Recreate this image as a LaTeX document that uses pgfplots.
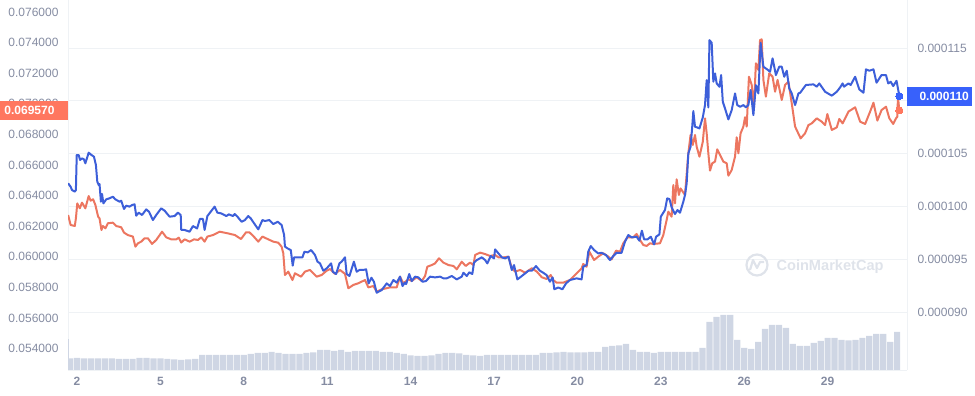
\documentclass[border=0pt]{standalone}
\usepackage{pgfplots}
\pgfplotsset{compat=1.18}
\usepackage{pgfplotstable}
\usepackage{fontspec}
\setmainfont{Liberation Sans}
\definecolor{gridc}{HTML}{EFF2F5}
\definecolor{tickc}{HTML}{858CA2}
\definecolor{bluel}{HTML}{3D5FD9}
\definecolor{redl}{HTML}{EC7660}
\definecolor{blueb}{HTML}{3861FB}
\definecolor{redb}{HTML}{FF775F}
\definecolor{volc}{HTML}{CFD6E4}
\definecolor{wm}{HTML}{DFE3EA}
\pgfplotstableread{
d v
1.68 0.00010219
1.77 0.00010187
1.82 0.00010155
1.92 0.00010140
1.96 0.00010155
1.99 0.00010487
2.06 0.00010487
2.11 0.00010440
2.18 0.00010455
2.25 0.00010446
2.30 0.00010408
2.42 0.00010509
2.52 0.00010487
2.61 0.00010471
2.68 0.00010392
2.73 0.00010234
2.78 0.00010203
2.81 0.00010212
2.86 0.00010045
2.90 0.00010118
2.95 0.00010029
3.05 0.00010067
3.17 0.00010077
3.29 0.00010092
3.38 0.00010067
3.53 0.00010045
3.59 0.00010054
3.69 0.00009976
3.77 0.00010007
3.89 0.00009998
3.98 0.00010013
4.07 0.00010020
4.13 0.00009912
4.22 0.00009941
4.34 0.00009919
4.49 0.00009972
4.59 0.00009950
4.73 0.00009871
4.85 0.00009919
5.03 0.00009982
5.15 0.00009960
5.33 0.00009903
5.51 0.00009909
5.63 0.00009941
5.73 0.00009919
5.75 0.00009777
5.87 0.00009777
6.05 0.00009761
6.17 0.00009814
6.32 0.00009792
6.42 0.00009881
6.53 0.00009881
6.59 0.00009777
6.69 0.00009909
6.83 0.00009957
6.95 0.00009998
7.05 0.00009941
7.19 0.00009934
7.37 0.00009909
7.46 0.00009925
7.61 0.00009909
7.67 0.00009928
7.77 0.00009903
7.92 0.00009855
8.04 0.00009871
8.16 0.00009909
8.25 0.00009887
8.37 0.00009840
8.52 0.00009783
8.67 0.00009871
8.76 0.00009862
8.92 0.00009871
9.06 0.00009833
9.22 0.00009855
9.36 0.00009824
9.45 0.00009729
9.48 0.00009619
9.57 0.00009603
9.69 0.00009587
9.76 0.00009439
9.81 0.00009518
9.96 0.00009518
10.11 0.00009518
10.18 0.00009571
10.30 0.00009565
10.42 0.00009587
10.56 0.00009540
10.65 0.00009477
10.74 0.00009461
10.86 0.00009391
10.98 0.00009413
11.14 0.00009461
11.20 0.00009382
11.32 0.00009360
11.44 0.00009461
11.52 0.00009477
11.64 0.00009518
11.70 0.00009360
11.80 0.00009341
11.96 0.00009477
12.06 0.00009382
12.16 0.00009398
12.28 0.00009398
12.40 0.00009404
12.49 0.00009271
12.59 0.00009325
12.68 0.00009287
12.78 0.00009183
12.96 0.00009208
13.14 0.00009271
13.26 0.00009246
13.38 0.00009303
13.50 0.00009278
13.62 0.00009335
13.71 0.00009246
13.79 0.00009278
13.84 0.00009265
13.95 0.00009360
14.04 0.00009293
14.16 0.00009335
14.28 0.00009328
14.43 0.00009287
14.55 0.00009293
14.70 0.00009335
14.88 0.00009328
15.06 0.00009335
15.18 0.00009319
15.30 0.00009319
15.48 0.00009341
15.66 0.00009309
15.84 0.00009335
15.90 0.00009372
16.02 0.00009341
16.11 0.00009376
16.22 0.00009360
16.28 0.00009467
16.38 0.00009492
16.56 0.00009518
16.68 0.00009492
16.76 0.00009461
16.88 0.00009530
17.00 0.00009508
17.04 0.00009593
17.16 0.00009555
17.28 0.00009518
17.40 0.00009508
17.52 0.00009524
17.64 0.00009398
17.72 0.00009445
17.84 0.00009309
18.00 0.00009341
18.24 0.00009391
18.36 0.00009391
18.51 0.00009435
18.65 0.00009391
18.77 0.00009372
18.89 0.00009350
19.01 0.00009287
19.11 0.00009328
19.17 0.00009215
19.31 0.00009233
19.46 0.00009215
19.59 0.00009271
19.73 0.00009303
19.97 0.00009319
20.15 0.00009309
20.21 0.00009429
20.33 0.00009445
20.39 0.00009571
20.48 0.00009625
20.60 0.00009587
20.75 0.00009555
20.87 0.00009561
21.03 0.00009539
21.17 0.00009492
21.29 0.00009530
21.41 0.00009561
21.59 0.00009561
21.71 0.00009666
21.83 0.00009729
21.95 0.00009707
22.13 0.00009713
22.23 0.00009675
22.32 0.00009770
22.40 0.00009688
22.52 0.00009688
22.64 0.00009713
22.76 0.00009640
22.83 0.00009713
22.95 0.00009735
23.00 0.00009903
23.15 0.00009966
23.23 0.00010076
23.31 0.00010070
23.39 0.00009991
23.51 0.00009928
23.60 0.00009966
23.69 0.00009940
23.81 0.00010045
23.87 0.00010108
23.93 0.00010218
23.99 0.00010502
24.07 0.00010565
24.13 0.00010754
24.17 0.00010903
24.23 0.00010754
24.31 0.00010748
24.39 0.00010739
24.51 0.00010843
24.59 0.00010960
24.65 0.00011196
24.71 0.00010938
24.75 0.00011575
24.83 0.00011550
24.89 0.00011181
24.95 0.00011260
25.01 0.00011165
25.11 0.00011133
25.17 0.00011244
25.23 0.00010991
25.31 0.00010928
25.43 0.00010824
25.55 0.00010912
25.67 0.00011070
25.75 0.00010960
25.85 0.00010944
25.97 0.00010960
26.06 0.00010938
26.15 0.00010960
26.23 0.00011102
26.33 0.00010865
26.42 0.00011149
26.51 0.00011070
26.59 0.00011550
26.69 0.00011323
26.83 0.00011297
26.93 0.00011275
27.02 0.00011402
27.14 0.00011244
27.26 0.00011323
27.35 0.00011323
27.44 0.00011228
27.53 0.00011285
27.62 0.00011118
27.71 0.00011070
27.83 0.00010960
27.95 0.00011070
28.01 0.00011076
28.22 0.00011150
28.49 0.00011156
28.61 0.00011134
28.70 0.00011165
28.91 0.00011086
29.15 0.00011049
29.33 0.00011086
29.45 0.00011127
29.54 0.00011165
29.59 0.00011134
29.75 0.00011165
29.83 0.00011150
29.99 0.00011228
30.14 0.00011108
30.29 0.00011077
30.38 0.00011298
30.50 0.00011285
30.65 0.00011298
30.76 0.00011172
30.94 0.00011244
31.10 0.00011244
31.18 0.00011165
31.27 0.00011181
31.36 0.00011140
31.48 0.00011190
31.58 0.00011045
}\bluedata
\pgfplotstableread{
d v
1.68 0.06273
1.77 0.06208
1.92 0.06201
1.96 0.06251
2.01 0.06349
2.10 0.06317
2.18 0.06354
2.30 0.06317
2.42 0.06397
2.49 0.06367
2.58 0.06376
2.66 0.06339
2.76 0.06262
2.81 0.06251
2.88 0.06175
2.93 0.06201
3.02 0.06186
3.11 0.06219
3.29 0.06223
3.41 0.06201
3.59 0.06193
3.69 0.06158
3.83 0.06142
4.01 0.06132
4.10 0.06066
4.19 0.06088
4.31 0.06099
4.43 0.06121
4.55 0.06121
4.70 0.06084
4.85 0.06110
5.06 0.06164
5.21 0.06127
5.39 0.06114
5.57 0.06114
5.66 0.06125
5.75 0.06093
5.87 0.06114
6.05 0.06099
6.21 0.06114
6.35 0.06110
6.47 0.06127
6.59 0.06099
6.69 0.06132
6.89 0.06142
7.13 0.06164
7.43 0.06153
7.68 0.06142
7.90 0.06116
8.08 0.06160
8.20 0.06160
8.34 0.06136
8.52 0.06099
8.67 0.06132
8.88 0.06114
9.06 0.06099
9.24 0.06092
9.36 0.06066
9.42 0.06023
9.48 0.05881
9.60 0.05903
9.75 0.05848
9.84 0.05892
10.06 0.05870
10.20 0.05903
10.38 0.05914
10.62 0.05870
10.80 0.05881
10.98 0.05909
11.10 0.05920
11.28 0.05888
11.46 0.05914
11.64 0.05888
11.76 0.05794
11.94 0.05816
12.12 0.05827
12.36 0.05848
12.48 0.05800
12.66 0.05809
12.78 0.05772
12.96 0.05787
13.26 0.05800
13.50 0.05800
13.62 0.05870
13.74 0.05826
13.92 0.05853
14.04 0.05842
14.22 0.05866
14.40 0.05842
14.52 0.05874
14.60 0.05935
14.76 0.05946
14.88 0.05957
15.02 0.05990
15.18 0.05962
15.36 0.05946
15.54 0.05940
15.66 0.05918
15.84 0.05968
15.98 0.05940
16.14 0.05962
16.26 0.05946
16.32 0.06012
16.50 0.06027
16.68 0.06018
16.86 0.06005
17.04 0.06012
17.16 0.05996
17.34 0.05996
17.52 0.06001
17.64 0.05925
17.76 0.05903
17.94 0.05914
18.12 0.05896
18.36 0.05925
18.54 0.05903
18.72 0.05866
18.89 0.05855
19.04 0.05881
19.13 0.05848
19.25 0.05831
19.49 0.05831
19.73 0.05848
20.15 0.05924
20.21 0.05953
20.33 0.05935
20.43 0.06033
20.60 0.05979
20.75 0.06001
20.93 0.06023
21.11 0.06001
21.23 0.05983
21.39 0.06040
21.53 0.06033
21.65 0.06088
21.80 0.06127
22.01 0.06127
22.13 0.06149
22.25 0.06110
22.37 0.06077
22.49 0.06071
22.61 0.06088
22.73 0.06084
22.97 0.06088
23.09 0.06142
23.21 0.06240
23.27 0.06295
23.39 0.06262
23.45 0.06469
23.51 0.06349
23.57 0.06506
23.65 0.06404
23.71 0.06447
23.87 0.06404
23.99 0.06676
24.07 0.06796
24.15 0.06731
24.23 0.06796
24.29 0.06720
24.39 0.06654
24.51 0.06752
24.59 0.06905
24.65 0.06807
24.71 0.06676
24.77 0.06563
24.85 0.06611
24.95 0.06622
25.03 0.06702
25.13 0.06665
25.25 0.06622
25.37 0.06611
25.43 0.06530
25.55 0.06567
25.67 0.06654
25.73 0.06781
25.79 0.06676
25.87 0.06807
25.97 0.06851
26.03 0.06912
26.09 0.06851
26.17 0.07177
26.27 0.07123
26.35 0.06970
26.42 0.07265
26.51 0.07221
26.57 0.07417
26.63 0.07421
26.69 0.07156
26.78 0.07047
26.90 0.07199
27.02 0.07177
27.11 0.07079
27.20 0.07156
27.35 0.07025
27.47 0.07123
27.59 0.07145
27.71 0.07003
27.83 0.06851
28.03 0.06774
28.19 0.06807
28.31 0.06861
28.43 0.06872
28.61 0.06905
28.79 0.06883
28.91 0.06861
28.99 0.06933
29.15 0.06829
29.33 0.06846
29.42 0.06901
29.54 0.06872
29.75 0.06949
29.99 0.06977
30.17 0.06883
30.35 0.06868
30.53 0.06949
30.65 0.07007
30.79 0.06890
30.94 0.06959
31.10 0.06981
31.22 0.06905
31.36 0.06868
31.46 0.06905
31.51 0.06916
31.53 0.07047
31.58 0.06957
}\reddata
\pgfplotstableread{
d v
1.75 11.5
2.00 12
2.25 11.5
2.50 11.5
2.75 11.5
3.00 11.5
3.25 11.5
3.50 11
3.75 11
4.00 11
4.25 12
4.50 12
4.75 11.5
5.00 11.5
5.25 11
5.50 10.5
5.75 10
6.00 10.5
6.25 11
6.50 15
6.75 15
7.00 15
7.25 15
7.50 15
7.75 15
8.00 15
8.25 16
8.50 17
8.75 17
9.00 18
9.25 17
9.50 16
9.75 16
10.00 16
10.25 17
10.50 17.5
10.75 20
11.00 20
11.25 19
11.50 20
11.75 18
12.00 19
12.25 19
12.50 19
12.75 19
13.00 18
13.25 18
13.50 17
13.75 16
14.00 14.5
14.25 14
14.50 14
14.75 14.5
15.00 16
15.25 17
15.50 17
15.75 16.5
16.00 15
16.25 14.5
16.50 14
16.75 15
17.00 15
17.25 15
17.50 15
17.75 15
18.00 15
18.25 15
18.50 15
18.75 17
19.00 17
19.25 17.5
19.50 18
19.75 17.5
20.00 17.5
20.25 17.5
20.50 18
20.75 18
21.00 23
21.25 24
21.50 24.5
21.75 26
22.00 20
22.25 18
22.50 18
22.75 17
23.00 18
23.25 18
23.50 18
23.75 18
24.00 18
24.25 18
24.50 22
24.75 48
25.00 53
25.25 55
25.50 55
25.75 30
26.00 22
26.25 21
26.50 28
26.75 41
27.00 45
27.25 45
27.50 42
27.75 26
28.00 24
28.25 24
28.50 27
28.75 29
29.00 32
29.25 32
29.50 30
29.75 29.5
30.00 30
30.25 32
30.50 34
30.75 36
31.00 36
31.25 28
31.50 38
}\voldata
\pgfplotsset{base/.style={
  scale only axis, width=839pt, height=370pt,
  at={(68pt,26pt)}, anchor=south west,
  xmin=1.676, xmax=31.856,
  scaled y ticks=false, scaled x ticks=false,
  /pgf/number format/assume math mode=true,
  tick style={draw=none}, major tick length=0pt,
  tick label style={font=\fontsize{12}{14}\selectfont, text=tickc},
  axis line style={draw=gridc, line width=0.8pt},
}}
\begin{document}
\begin{tikzpicture}[x=1pt,y=1pt]
\useasboundingbox (0,0) rectangle (975,396);
\begin{axis}[base,
  ymin=0.00008451, ymax=0.00011955,
  axis y line*=right,
  axis x line*=bottom,
  ytick={0.00009,0.000095,0.0001,0.000105,0.00011,0.000115},
  ymajorgrids, grid style={draw=gridc, line width=0.8pt},
  yticklabel style={/pgf/number format/fixed,/pgf/number format/fixed zerofill,/pgf/number format/precision=6, xshift=7pt},
  xtick={2,5,8,11,14,17,20,23,26,29},
  xticklabel style={font=\fontsize{12}{14}\selectfont\bfseries, text=tickc, yshift=-4pt},
]
\end{axis}
\begin{axis}[base, hide x axis, axis y line*=left,
  ymin=0.0526, ymax=0.076784,
  ytick={0.054,0.056,0.058,0.060,0.062,0.064,0.066,0.068,0.070,0.072,0.074,0.076},
  yticklabel style={/pgf/number format/fixed,/pgf/number format/fixed zerofill,/pgf/number format/precision=6, xshift=-6pt},
]
\end{axis}
\draw[wm, line width=2.2pt] (757,131) circle (10.5);
\draw[wm, line width=2.2pt, line join=round] (750,126) -- (753,136) -- (757,128) -- (760,134) -- (764,134);
\node[wm, anchor=west, font=\fontsize{14.6}{18}\selectfont\bfseries] at (773,129.5) {CoinMarketCap};
\begin{axis}[base, hide axis, ymin=0, ymax=370]
\addplot[ybar, bar width=6.2pt, bar shift=0pt, fill=volc, draw=none] table[x=d,y=v] {\voldata};
\addplot[ybar, bar width=1.2pt, bar shift=0pt, fill=volc, draw=none] coordinates {(1.70,31)};
\end{axis}
\begin{axis}[base, hide axis, ymin=0.0526, ymax=0.076784]
\addplot[redl, line width=2pt, line join=round] table[x=d,y=v] {\reddata};
\addplot[only marks, color=redb, mark=*, mark size=3.6pt, mark options={fill=redb, draw=redb, line width=0pt}] coordinates {(31.58,0.06957)};
\end{axis}
\begin{axis}[base, hide axis, ymin=0.00008451, ymax=0.00011955]
\addplot[bluel, line width=2pt, line join=round] table[x=d,y=v] {\bluedata};
\addplot[only marks, color=blueb, mark=*, mark size=3.6pt, mark options={fill=blueb, draw=blueb, line width=0pt}] coordinates {(31.58,0.00011045)};
\end{axis}
\fill[redb] (0,276) rectangle (68,295);
\node[white, font=\fontsize{12}{14}\selectfont\bfseries, anchor=east] at (58,285.5) {0.069570};
\fill[blueb] (907,290) rectangle (972,309);
\node[white, font=\fontsize{12}{14}\selectfont\bfseries, anchor=west] at (916,299.5) {0.000110};
\end{tikzpicture}
\end{document}
